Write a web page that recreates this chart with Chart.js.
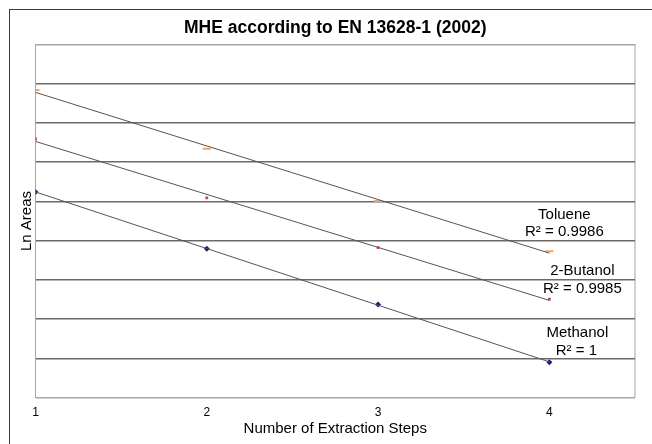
<!DOCTYPE html>
<html>
<head>
<meta charset="utf-8">
<script src="https://cdn.jsdelivr.net/npm/chart.js@4"></script>
<style>
  body { margin: 0; background: #fff; }
  #wrap { width: 652px; height: 444px; position: relative; }
</style>
</head>
<body>
<div id="wrap"><canvas id="mheChart"></canvas></div>
<script>
// Sample data
const steps = [1, 2, 3, 4];
const toluene = [15.84, 14.34, 13.01, 11.73];
const butanol = [14.59, 13.09, 11.82, 10.51];
const methanol = [13.24, 11.79, 10.37, 8.90];
const seriesNames = ['Toluene', '2-Butanol', 'Methanol'];
const r2Labels = ['R² = 0.9986', 'R² = 0.9985', 'R² = 1'];
const xTicks = [1, 2, 3, 4];

// Least squares fit, used for the trendlines
function linearFit(xs, ys) {
    const n = xs.length;
    const mx = xs.reduce((a, b) => a + b, 0) / n;
    const my = ys.reduce((a, b) => a + b, 0) / n;
    let sxy = 0, sxx = 0;
    for (let i = 0; i < n; i++) {
        sxy += (xs[i] - mx) * (ys[i] - my);
        sxx += (xs[i] - mx) * (xs[i] - mx);
    }
    const slope = sxy / sxx;
    return { slope: slope, intercept: my - slope * mx };
}

function points(ys) {
    return steps.map((x, i) => ({ x: x, y: ys[i] }));
}

function trend(ys) {
    const fit = linearFit(steps, ys);
    const x0 = steps[0], x1 = steps[steps.length - 1];
    return [
        { x: x0, y: fit.intercept + fit.slope * x0 },
        { x: x1, y: fit.intercept + fit.slope * x1 }
    ];
}

function trendSet(ys) {
    return {
        type: 'line',
        data: trend(ys),
        borderColor: '#555555',
        borderWidth: 1,
        pointRadius: 0,
        fill: false
    };
}

// Frame around the whole chart and the plot area, plus the trendline labels
const decorations = {
    id: 'decorations',
    beforeDraw(chart) {
        const ctx = chart.ctx;
        const a = chart.chartArea;
        ctx.save();
        ctx.strokeStyle = '#3a3a3a';
        ctx.lineWidth = 1;
        ctx.strokeRect(9.5, 9.5, 800, 600);
        ctx.strokeStyle = '#a6a6a6';
        ctx.strokeRect(a.left, a.top, a.right - a.left, a.bottom - a.top);
        ctx.restore();
    },
    afterDatasetsDraw(chart) {
        const ctx = chart.ctx;
        const xs = chart.scales.x, ys = chart.scales.y;
        const offsets = [[15, -36, 15, -19], [33, -28, 33, -10], [28, -29, 27, -11]];
        const lastVals = [toluene[3], butanol[3], methanol[3]];
        ctx.save();
        ctx.fillStyle = '#000';
        ctx.font = '15px "Liberation Sans", Arial, sans-serif';
        ctx.textAlign = 'center';
        ctx.textBaseline = 'middle';
        seriesNames.forEach((name, i) => {
            const px = xs.getPixelForValue(steps[3]);
            const py = ys.getPixelForValue(lastVals[i]);
            const o = offsets[i];
            ctx.fillText(name, px + o[0], py + o[1]);
            ctx.fillText(r2Labels[i], px + o[2], py + o[3]);
        });
        ctx.restore();
    }
};

const ctx = document.getElementById('mheChart').getContext('2d');
const mheChart = new Chart(ctx, {
    type: 'scatter',
    data: {
        datasets: [
            trendSet(toluene),
            trendSet(butanol),
            trendSet(methanol),
            {
                label: 'Toluene',
                data: points(toluene),
                pointStyle: 'line',
                pointRadius: 4,
                borderWidth: 2,
                borderColor: '#f7a25e',
                backgroundColor: '#f7a25e'
            },
            {
                label: '2-Butanol',
                data: points(butanol),
                pointStyle: 'rect',
                pointRadius: 2,
                borderWidth: 0,
                borderColor: '#c0504d',
                backgroundColor: '#c0504d'
            },
            {
                label: 'Methanol',
                data: points(methanol),
                pointStyle: 'rectRot',
                pointRadius: 3,
                borderWidth: 0,
                borderColor: '#1c1c80',
                backgroundColor: '#1c1c80'
            }
        ]
    },
    options: {
        responsive: true,
        maintainAspectRatio: false,
        animation: false,
        layout: {
            padding: { left: 0, right: 17, top: 0, bottom: 0 }
        },
        plugins: {
            legend: { display: false },
            tooltip: { enabled: false },
            title: {
                display: true,
                text: 'MHE according to EN 13628-1 (2002)',
                fullSize: false,
                color: '#000',
                font: { family: '"Liberation Sans", Arial, sans-serif', size: 17.5, weight: 'bold' },
                padding: { top: 18, bottom: 5.5 }
            }
        },
        scales: {
            x: {
                type: 'linear',
                min: 1,
                max: 4.5,
                afterFit: function(scale) { scale.height = 46.5; },
                afterBuildTicks: function(scale) {
                    scale.ticks = xTicks.map(v => ({ value: v }));
                },
                grid: { display: false, drawTicks: false },
                border: { display: false },
                ticks: {
                    padding: 8,
                    color: '#000',
                    font: { family: '"Liberation Sans", Arial, sans-serif', size: 12 }
                },
                title: {
                    display: true,
                    text: 'Number of Extraction Steps',
                    color: '#000',
                    font: { family: '"Liberation Sans", Arial, sans-serif', size: 15 },
                    padding: { top: 0, bottom: 6 }
                }
            },
            y: {
                min: 8,
                max: 17,
                afterFit: function(scale) { scale.width = 35.5; },
                ticks: { display: false, stepSize: 1 },
                grid: {
                    drawTicks: false,
                    lineWidth: 1.5,
                    color: function(c) {
                        return (c.index === 0 || c.tick.value === 17) ? '#a6a6a6' : '#6a6a6a';
                    }
                },
                border: { display: false },
                title: {
                    display: true,
                    text: 'Ln Areas',
                    color: '#000',
                    font: { family: '"Liberation Sans", Arial, sans-serif', size: 15 },
                    padding: { top: 18, bottom: 0 }
                }
            }
        }
    },
    plugins: [decorations]
});
</script>
</body>
</html>
